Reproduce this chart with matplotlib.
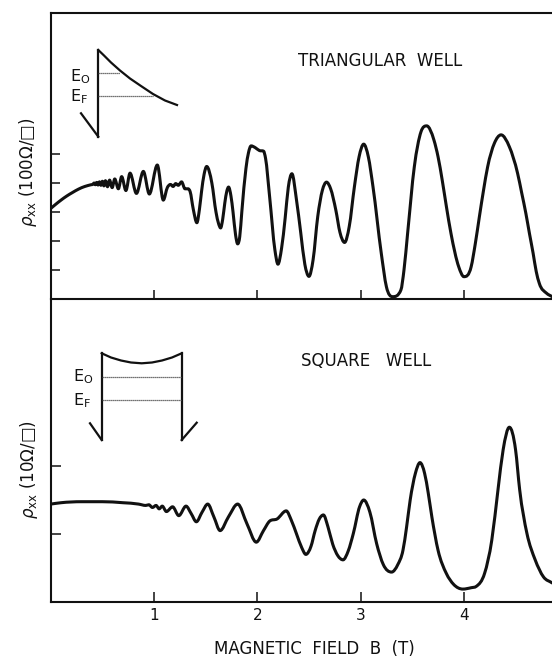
import numpy as np
import matplotlib
matplotlib.use("Agg")
import matplotlib.pyplot as plt
from matplotlib.path import Path
from matplotlib.patches import PathPatch

plt.rcParams['font.family'] = ['DejaVu Sans']
plt.rcParams['mathtext.fontset'] = 'dejavusans'

# ---------------- data ----------------
tri_B = [0.00, 0.05, 0.10, 0.155, 0.21, 0.27, 0.33, 0.39, 0.41,
         0.42, 0.432, 0.445, 0.458, 0.472, 0.486, 0.50, 0.515, 0.53, 0.55,
         0.57, 0.595, 0.62, 0.655, 0.687, 0.728, 0.768, 0.83, 0.897, 0.955,
         1.032, 1.09, 1.13, 1.16, 1.185, 1.21, 1.235, 1.267, 1.30, 1.33,
         1.35, 1.38, 1.415, 1.44, 1.46, 1.485, 1.51, 1.56, 1.60, 1.625,
         1.645, 1.665, 1.685, 1.705, 1.722, 1.745, 1.765, 1.79, 1.81, 1.83,
         1.85, 1.89, 1.915, 1.94, 1.98, 2.02, 2.06, 2.08, 2.12, 2.17, 2.20,
         2.235, 2.27, 2.30, 2.335, 2.38, 2.42, 2.46, 2.50, 2.54, 2.585,
         2.63, 2.67, 2.71, 2.76, 2.80, 2.845, 2.89, 2.94, 2.985, 3.03,
         3.075, 3.12, 3.20, 3.25, 3.31, 3.39, 3.42, 3.455, 3.52, 3.585,
         3.64, 3.71, 3.75, 3.79, 3.83, 3.875, 3.95, 4.00, 4.07, 4.11,
         4.15, 4.19, 4.23, 4.295, 4.36, 4.44, 4.52, 4.56, 4.60, 4.635,
         4.67, 4.70, 4.73, 4.80, 4.855]
tri_rho = [3.12, 3.27, 3.41, 3.55, 3.67, 3.79, 3.88, 3.94, 3.96,
           4.00, 3.94, 4.02, 3.93, 4.04, 3.92, 4.06, 3.90, 4.08, 3.87,
           4.10, 3.84, 4.14, 3.80, 4.22, 3.74, 4.34, 3.64, 4.40, 3.62,
           4.62, 3.41, 3.85, 3.95, 3.88, 3.98, 3.92, 4.04, 3.80, 3.80,
           3.70, 3.10, 2.63, 3.10, 3.70, 4.30, 4.57, 4.00, 3.00, 2.60,
           2.45, 2.75, 3.30, 3.72, 3.86, 3.55, 3.00, 2.20, 1.90, 2.15,
           3.00, 4.50, 5.05, 5.28, 5.22, 5.12, 5.10, 4.85, 3.50, 1.70, 1.20,
           1.75, 2.80, 3.85, 4.32, 3.40, 2.30, 1.20, 0.78, 1.35, 2.84,
           3.75, 4.03, 3.80, 3.07, 2.30, 1.95, 2.50, 3.87, 4.90, 5.34,
           4.90, 3.87, 1.58, 0.42, 0.08, 0.31, 1.00, 2.26, 4.56, 5.77,
           5.97, 5.48, 4.90, 4.10, 3.20, 2.26, 1.11, 0.77, 1.11, 1.90,
           2.84, 3.75, 4.56, 5.37, 5.66, 5.25, 4.33, 3.65, 2.95, 2.25,
           1.58, 0.95, 0.54, 0.20, 0.08]

sq_B = [0.00, 0.10, 0.30, 0.50, 0.70, 0.85, 0.92, 0.95, 0.985, 1.02,
        1.05, 1.08, 1.12, 1.18, 1.24, 1.31, 1.36, 1.41, 1.465, 1.52,
        1.58, 1.64, 1.72, 1.81, 1.90, 1.99, 2.06, 2.12, 2.19, 2.28,
        2.33, 2.38, 2.43, 2.47, 2.52, 2.56, 2.60, 2.64, 2.685, 2.73,
        2.78, 2.83, 2.88, 2.93, 2.99, 3.03, 3.09, 3.155, 3.22, 3.30,
        3.36, 3.41, 3.445, 3.48, 3.53, 3.575, 3.62, 3.655, 3.69, 3.75,
        3.83, 3.90, 3.99, 4.07, 4.12, 4.20, 4.27, 4.33, 4.38, 4.44,
        4.50, 4.54, 4.61, 4.69, 4.77, 4.855]
sq_rho = [1.44, 1.46, 1.475, 1.475, 1.46, 1.44, 1.42, 1.43, 1.39, 1.42,
          1.37, 1.41, 1.33, 1.40, 1.27, 1.41, 1.30, 1.18, 1.32, 1.44,
          1.25, 1.05, 1.25, 1.44, 1.15, 0.88, 1.05, 1.19, 1.22, 1.34,
          1.20, 1.00, 0.80, 0.70, 0.82, 1.05, 1.22, 1.28, 1.10, 0.85,
          0.68, 0.62, 0.75, 1.01, 1.40, 1.50, 1.32, 0.86, 0.55, 0.44,
          0.55, 0.76, 1.10, 1.50, 1.89, 2.05, 1.89, 1.60, 1.25, 0.76,
          0.42, 0.26, 0.19, 0.21, 0.23, 0.42, 0.91, 1.65, 2.24, 2.57,
          2.24, 1.65, 1.01, 0.62, 0.37, 0.28]

x_ticks = [1, 2, 3, 4]
x_ticklabels = ['1', '2', '3', '4']
tri_yticks = [1, 2, 3, 4, 5]
sq_yticks = [1, 2]

tri_title = 'TRIANGULAR  WELL'
sq_title = 'SQUARE   WELL'
x_label = 'MAGNETIC  FIELD  B  (T)'
tri_ylabel = r'$\rho_{\mathrm{xx}}$ (100Ω/□)'
sq_ylabel = r'$\rho_{\mathrm{xx}}$ (10Ω/□)'


def smooth_path(x, y):
    """Smooth cubic curve through the points (rendered as a Bezier path)."""
    x = np.asarray(x, float)
    y = np.asarray(y, float)
    h = np.diff(x)
    d = np.diff(y) / h
    m = np.zeros_like(y)
    m[0] = d[0]
    m[-1] = d[-1]
    for i in range(1, len(x) - 1):
        if d[i - 1] * d[i] <= 0:
            m[i] = 0.0
        else:
            m[i] = (h[i - 1] * d[i] + h[i] * d[i - 1]) / (h[i - 1] + h[i])
            lim = 3 * min(abs(d[i - 1]), abs(d[i]))
            if abs(m[i]) > lim:
                m[i] = np.sign(m[i]) * lim
    verts = [(x[0], y[0])]
    codes = [Path.MOVETO]
    for i in range(len(x) - 1):
        verts += [(x[i] + h[i] / 3, y[i] + m[i] * h[i] / 3),
                  (x[i + 1] - h[i] / 3, y[i + 1] - m[i + 1] * h[i] / 3),
                  (x[i + 1], y[i + 1])]
        codes += [Path.CURVE4] * 3
    return Path(verts, codes)


W, H = 552, 657
fig = plt.figure(figsize=(W / 100, H / 100), dpi=100)
fig.patch.set_facecolor('white')

x0 = 50.7
px_per_T = 103.3
xmax = (W - x0) / px_per_T
ink = '#111111'

top_ax = fig.add_axes([x0 / W, 1 - 299 / H, 1 - x0 / W, (299 - 13) / H])
bot_ax = fig.add_axes([x0 / W, 1 - 602 / H, 1 - x0 / W, (602 - 299) / H])

top_ax.set_xlim(0, xmax)
top_ax.set_ylim(0, (299 - 13) / 29.0)
bot_ax.set_xlim(0, xmax)
bot_ax.set_ylim(0, (602 - 299) / 68.0)

for ax in (top_ax, bot_ax):
    ax.set_facecolor('none')
    ax.spines['right'].set_visible(False)
    for s in ('left', 'bottom', 'top'):
        ax.spines[s].set_linewidth(1.5)
        ax.spines[s].set_color(ink)
bot_ax.spines['top'].set_visible(False)

top_ax.set_xticks(x_ticks)
top_ax.set_xticklabels([])
top_ax.set_yticks(tri_yticks)
top_ax.set_yticklabels([])
top_ax.tick_params(axis='both', direction='in', length=6.5, width=1.1, color=ink)

bot_ax.set_xticks(x_ticks)
bot_ax.set_xticklabels(x_ticklabels, fontsize=11, color=ink)
bot_ax.set_yticks(sq_yticks)
bot_ax.set_yticklabels([])
bot_ax.tick_params(axis='both', direction='in', length=7.5, width=1.1,
                   color=ink, pad=4)

top_ax.add_patch(PathPatch(smooth_path(tri_B, tri_rho), fill=False,
                           lw=2.2, ec=ink, capstyle='round', joinstyle='round',
                           clip_on=True))
bot_ax.add_patch(PathPatch(smooth_path(sq_B, sq_rho), fill=False,
                           lw=2.2, ec=ink, capstyle='round', joinstyle='round',
                           clip_on=True))

fig.text(380 / W, 1 - 61 / H, tri_title, ha='center', va='center',
         fontsize=12, color=ink)
fig.text(366 / W, 1 - 361 / H, sq_title, ha='center', va='center',
         fontsize=12, color=ink)
fig.text(314 / W, 1 - 649 / H, x_label, ha='center', va='center',
         fontsize=12, color=ink)
fig.text(28 / W, 1 - 172 / H, tri_ylabel, rotation=90, ha='center',
         va='center', fontsize=12, color=ink)
fig.text(29 / W, 1 - 470 / H, sq_ylabel, rotation=90, ha='center',
         va='center', fontsize=12, color=ink)

# ---------------- schematic insets (pixel frame) ----------------
def pixel_inset(xa, xb, ya, yb):
    a = fig.add_axes([xa / W, 1 - yb / H, (xb - xa) / W, (yb - ya) / H])
    a.set_xlim(xa, xb)
    a.set_ylim(yb, ya)
    a.axis('off')
    a.patch.set_alpha(0)
    return a

t = pixel_inset(60, 200, 40, 145)
t.plot([98.3, 98.3], [50, 136.7], color=ink, lw=1.6)
t.plot([81, 98.3], [113.3, 136.7], color=ink, lw=1.6)
t.plot([98.3, 104, 111, 120, 130, 141, 153, 165, 177],
       [50, 55.5, 62.5, 70.5, 78.5, 86, 94, 100.5, 105], color=ink, lw=1.6)
t.plot([98.3, 120], [73.3, 73.3], color='#444444', lw=0.9, ls=(0, (1, 0.6)))
t.plot([98.3, 153.3], [96, 96], color='#444444', lw=0.9, ls=(0, (1, 0.6)))
t.text(69.5, 81.5, r'E$_{\mathrm{O}}$', fontsize=11.5, color=ink,
       ha='left', va='baseline')
t.text(69.5, 101.5, r'E$_{\mathrm{F}}$', fontsize=11.5, color=ink,
       ha='left', va='baseline')

s = pixel_inset(60, 210, 345, 445)
s.plot([101.7, 101.7], [353.3, 440], color=ink, lw=1.6)
s.plot([181.7, 181.7], [353.3, 440], color=ink, lw=1.6)
s.plot([90, 101.7], [423.3, 440], color=ink, lw=1.6)
s.plot([181.7, 196.7], [440, 422.7], color=ink, lw=1.6)
s.plot([101.7, 111, 121, 131, 141.7, 152, 162, 172, 181.7],
       [353.3, 357.5, 360.5, 362.5, 363.3, 362.5, 360.5, 357.5, 353.3],
       color=ink, lw=1.6)
s.plot([101.7, 181.7], [376.7, 376.7], color='#444444', lw=0.9, ls=(0, (1, 0.6)))
s.plot([101.7, 181.7], [400, 400], color='#444444', lw=0.9, ls=(0, (1, 0.6)))
s.text(73, 381.5, r'E$_{\mathrm{O}}$', fontsize=11.5, color=ink,
       ha='left', va='baseline')
s.text(73, 405, r'E$_{\mathrm{F}}$', fontsize=11.5, color=ink,
       ha='left', va='baseline')

fig.savefig('out.png', dpi=100, facecolor='white')
